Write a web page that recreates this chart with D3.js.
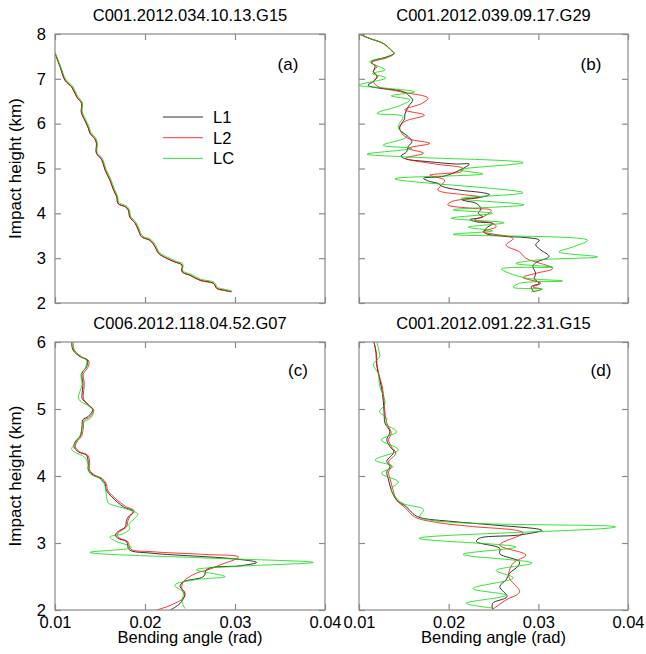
<!DOCTYPE html>
<html>
<head>
<meta charset="utf-8">
<script src="https://cdn.jsdelivr.net/npm/d3@7"></script>
<style>
  body { margin: 0; background: #fff; }
  svg text { font-family: "Liberation Sans", Arial, sans-serif; }
</style>
</head>
<body>
<div id="chart"></div>
<script>
// bending angle in mrad, impact height in km: [angle, height]
var titles = ["C001.2012.034.10.13.G15", "C001.2012.039.09.17.G29",
              "C006.2012.118.04.52.G07", "C001.2012.091.22.31.G15"];
var tags = ["(a)", "(b)", "(c)", "(d)"];
var seriesNames = ["L1", "L2", "LC"];
var seriesColors = ["#000000", "#ff0000", "#00dd00"];
var xTicks = [0.01, 0.02, 0.03, 0.04];
var yTicksTop = [2, 3, 4, 5, 6, 7, 8];
var yTicksBottom = [2, 3, 4, 5, 6];

var aL1 = [[10.0,7.57],[10.56,7.27],[11.1,6.97],[11.85,6.82],[12.4,6.6],[12.96,6.45],[12.9,6.28],[13.0,6.2],[13.3,6.08],[13.7,5.9],[13.9,5.78],[14.4,5.67],[14.6,5.56],[14.55,5.4],[14.6,5.34],[15.2,5.19],[15.55,4.97],[16.1,4.74],[16.5,4.52],[16.85,4.37],[17.0,4.22],[17.8,4.15],[18.15,4.07],[18.3,3.92],[18.9,3.78],[19.25,3.63],[19.6,3.48],[20.55,3.40],[21.1,3.26],[21.5,3.11],[22.4,3.0],[23.3,2.92],[24.1,2.85],[24.1,2.70],[25.0,2.62],[26.1,2.51],[27.6,2.44],[27.96,2.33],[28.7,2.29],[29.6,2.25]];
var aL2 = [[10.0,7.56],[10.6,7.26],[11.15,6.96],[11.9,6.81],[12.45,6.59],[13.0,6.44],[12.95,6.27],[13.05,6.19],[13.35,6.07],[13.75,5.89],[13.95,5.77],[14.45,5.66],[14.65,5.55],[14.6,5.39],[14.65,5.33],[15.25,5.18],[15.6,4.96],[16.15,4.73],[16.55,4.51],[16.9,4.36],[17.05,4.21],[17.85,4.14],[18.2,4.06],[18.35,3.91],[18.95,3.77],[19.3,3.62],[19.65,3.47],[20.6,3.39],[21.15,3.25],[21.55,3.1],[22.45,2.99],[23.35,2.91],[24.15,2.84],[24.15,2.69],[25.05,2.61],[26.15,2.50],[27.65,2.43],[28.0,2.32],[28.75,2.28],[29.6,2.25]];
var aLC = [[10.0,7.6],[10.6,7.29],[11.2,6.99],[11.95,6.84],[12.5,6.62],[13.05,6.47],[13.0,6.3],[13.1,6.22],[13.4,6.1],[13.8,5.92],[14.0,5.8],[14.5,5.69],[14.7,5.58],[14.65,5.42],[14.7,5.36],[15.3,5.21],[15.65,4.99],[16.2,4.76],[16.6,4.54],[16.95,4.39],[17.1,4.24],[17.9,4.17],[18.25,4.09],[18.4,3.94],[19.0,3.8],[19.35,3.65],[19.7,3.5],[20.65,3.42],[21.2,3.28],[21.6,3.13],[22.5,3.02],[23.4,2.94],[24.2,2.87],[24.2,2.72],[25.1,2.64],[26.2,2.53],[27.7,2.46],[28.05,2.35],[28.8,2.31],[29.7,2.27]];

var bL1 = [[10.0,8.0],[11.2,7.9],[12.7,7.79],[13.6,7.64],[13.9,7.57],[13.1,7.49],[11.4,7.38],[11.8,7.27],[11.6,7.16],[12.0,7.05],[11.6,6.94],[11.0,6.86],[12.3,6.79],[14.2,6.75],[15.3,6.68],[15.7,6.60],[16.0,6.53],[15.5,6.38],[15.1,6.19],[15.1,6.12],[14.55,5.93],[14.55,5.86],[15.5,5.71],[15.9,5.60],[15.5,5.49],[15.3,5.37],[14.7,5.28],[15.1,5.22],[17.9,5.15],[20.85,5.10],[22.3,5.10],[21.95,5.04],[21.2,4.96],[19.5,4.83],[17.2,4.78],[17.9,4.71],[18.8,4.67],[19.3,4.6],[21.2,4.52],[23.8,4.46],[24.55,4.42],[23.4,4.35],[21.5,4.30],[23.1,4.22],[23.6,4.1],[23.3,4.0],[23.8,3.92],[22.4,3.86],[23.1,3.81],[24.9,3.77],[24.2,3.67],[24.0,3.57],[26.0,3.49],[28.6,3.46],[30.1,3.40],[29.7,3.30],[30.3,3.18],[31.2,3.04],[29.7,2.9],[29.4,2.81],[29.7,2.66],[29.55,2.54],[30.1,2.44],[29.2,2.36],[29.5,2.25]];
var bL2 = [[10.0,8.0],[11.2,7.9],[12.7,7.79],[13.5,7.65],[13.9,7.56],[13.1,7.47],[11.4,7.36],[12.0,7.27],[11.6,7.16],[12.1,7.05],[11.6,6.94],[12.1,6.83],[14.7,6.71],[17.7,6.57],[17.0,6.45],[15.1,6.31],[17.3,6.19],[15.1,6.05],[14.55,5.93],[14.8,5.78],[15.6,5.66],[17.9,5.56],[15.5,5.45],[17.2,5.34],[15.2,5.23],[18.5,5.1],[21.6,5.0],[21.4,4.93],[19.7,4.89],[17.9,4.85],[19.55,4.74],[19.2,4.63],[18.8,4.52],[21.95,4.41],[23.4,4.37],[20.3,4.26],[19.9,4.19],[22.7,4.11],[24.75,4.07],[24.2,3.96],[22.9,3.85],[24.9,3.78],[25.3,3.70],[23.8,3.59],[24.9,3.54],[27.2,3.44],[26.4,3.29],[27.9,3.14],[28.6,3.0],[31.6,2.77],[29.7,2.66],[28.3,2.57],[30.3,2.44],[29.4,2.36],[30.3,2.31],[29.4,2.25]];
var bLC = [[10.0,8.0],[11.2,7.9],[12.7,7.79],[13.6,7.64],[13.9,7.57],[13.1,7.48],[11.2,7.38],[12.9,7.2],[11.5,7.12],[13.0,7.02],[10.0,6.86],[13.1,6.79],[16.2,6.71],[13.6,6.62],[15.7,6.53],[14.5,6.40],[12.0,6.23],[14.9,6.16],[14.5,6.0],[14.4,5.9],[15.3,5.71],[12.7,5.52],[15.9,5.45],[10.9,5.32],[15.1,5.26],[28.3,5.13],[21.2,4.97],[23.8,4.88],[14.0,4.77],[28.3,4.46],[21.4,4.33],[28.4,4.19],[20.5,4.08],[24.9,4.0],[20.3,3.89],[26.2,3.79],[22.2,3.69],[24.9,3.61],[20.5,3.53],[35.5,3.40],[34.0,3.26],[32.3,3.14],[36.6,3.03],[29.9,2.96],[27.5,2.88],[31.6,2.80],[25.9,2.76],[28.3,2.57],[32.7,2.49],[27.9,2.44],[27.2,2.35],[30.5,2.31],[29.2,2.25]];

var cL1 = [[11.85,6.0],[12.0,5.88],[12.8,5.78],[13.6,5.73],[13.5,5.63],[13.0,5.53],[13.1,5.38],[13.0,5.21],[13.0,5.16],[13.7,5.06],[14.2,4.99],[13.7,4.89],[13.1,4.84],[13.0,4.74],[12.8,4.59],[12.4,4.54],[12.1,4.44],[12.6,4.36],[13.5,4.31],[13.7,4.19],[13.7,4.09],[14.3,4.01],[15.0,3.97],[15.55,3.89],[15.7,3.79],[16.3,3.69],[17.6,3.54],[18.7,3.47],[18.15,3.39],[17.95,3.34],[17.8,3.24],[17.0,3.17],[16.7,3.12],[17.0,3.07],[17.95,3.02],[18.25,2.90],[20.55,2.85],[26.1,2.80],[29.4,2.77],[32.4,2.71],[30.6,2.66],[26.9,2.61],[26.5,2.50],[24.25,2.42],[23.9,2.35],[24.45,2.25],[23.9,2.1],[22.8,2.0]];
var cL2 = [[12.0,6.0],[12.15,5.88],[12.95,5.78],[13.75,5.72],[13.65,5.62],[13.15,5.52],[13.25,5.38],[13.15,5.2],[13.2,5.14],[13.85,5.05],[14.3,4.98],[13.85,4.88],[13.25,4.83],[13.15,4.73],[12.95,4.59],[12.55,4.53],[12.25,4.44],[12.75,4.36],[13.65,4.31],[13.85,4.19],[13.85,4.09],[14.45,4.01],[15.15,3.97],[15.7,3.89],[15.85,3.79],[16.5,3.69],[17.8,3.55],[18.8,3.48],[18.3,3.39],[18.1,3.33],[17.95,3.24],[17.2,3.17],[16.9,3.12],[17.2,3.07],[18.1,3.02],[18.4,2.91],[20.8,2.87],[26.5,2.83],[30.4,2.79],[28.3,2.67],[27.0,2.6],[25.7,2.55],[24.25,2.42],[24.1,2.32],[24.4,2.2],[23.0,2.08],[21.3,2.0]];
var cLC = [[11.85,6.0],[12.0,5.9],[12.7,5.8],[13.5,5.72],[13.4,5.62],[12.9,5.52],[13.0,5.36],[12.6,5.18],[12.8,5.12],[13.7,5.05],[14.3,4.96],[13.9,4.86],[13.2,4.80],[13.0,4.7],[12.7,4.58],[12.2,4.48],[11.85,4.40],[12.3,4.35],[13.3,4.28],[13.7,4.17],[13.8,4.06],[14.0,4.02],[14.9,3.97],[15.5,3.87],[15.7,3.73],[15.9,3.6],[16.6,3.56],[18.1,3.50],[19.2,3.43],[18.8,3.36],[18.2,3.28],[18.3,3.21],[17.6,3.14],[16.1,3.09],[16.7,3.03],[18.0,2.97],[18.5,2.93],[13.9,2.86],[26.0,2.78],[38.7,2.71],[30.0,2.65],[25.7,2.60],[28.9,2.50],[25.5,2.45],[23.3,2.37],[24.25,2.26],[24.1,2.13],[24.45,2.02]];

var dL1 = [[11.67,6.0],[11.9,5.83],[11.95,5.68],[12.15,5.53],[12.5,5.33],[12.7,5.13],[12.8,4.94],[12.9,4.79],[13.45,4.66],[13.1,4.54],[13.45,4.44],[13.9,4.36],[13.1,4.22],[13.45,4.14],[13.1,4.06],[13.3,3.94],[13.6,3.79],[14.2,3.64],[15.3,3.54],[16.0,3.44],[16.8,3.38],[20.5,3.32],[24.9,3.27],[30.4,3.19],[27.9,3.12],[23.4,3.07],[23.1,3.02],[25.7,2.92],[25.7,2.84],[27.9,2.72],[27.7,2.65],[26.8,2.55],[26.4,2.45],[25.7,2.35],[26.5,2.2],[24.9,2.1],[24.9,2.01]];
var dL2 = [[11.67,6.0],[11.95,5.83],[12.0,5.68],[12.2,5.53],[12.6,5.33],[12.8,5.13],[12.9,4.94],[13.1,4.79],[13.6,4.64],[13.3,4.54],[13.6,4.44],[14.1,4.34],[13.3,4.21],[13.6,4.14],[13.3,4.06],[13.5,3.94],[13.8,3.79],[14.2,3.64],[15.2,3.52],[16.2,3.39],[19.0,3.3],[22.3,3.25],[28.3,3.15],[25.7,2.97],[28.6,2.82],[27.2,2.70],[26.7,2.50],[27.9,2.27],[26.4,2.15],[24.9,2.01]];
var dLC = [[12.0,6.0],[12.2,5.88],[12.3,5.78],[11.6,5.66],[12.15,5.53],[12.3,5.35],[12.9,5.08],[12.3,4.96],[13.1,4.86],[13.0,4.78],[14.2,4.66],[12.5,4.54],[14.4,4.39],[11.8,4.24],[13.8,4.14],[12.5,4.04],[14.4,3.91],[13.6,3.81],[14.0,3.7],[14.9,3.59],[17.2,3.50],[16.8,3.39],[38.6,3.24],[16.7,3.07],[27.5,2.94],[21.6,2.83],[29.3,2.70],[25.3,2.59],[27.2,2.48],[22.7,2.32],[26.4,2.22],[21.95,2.10],[24.9,2.03]];

var panels = [
  { left: 55,  top: 34,  width: 270, height: 269, yMax: 8, yTicks: yTicksTop, data: [aL1, aL2, aLC], tagX: 288, tagY: 70,  yLabel: true,  xLabel: false },
  { left: 359, top: 34,  width: 269, height: 269, yMax: 8, yTicks: yTicksTop, data: [bL1, bL2, bLC], tagX: 591, tagY: 70,  yLabel: false, xLabel: false },
  { left: 55,  top: 342, width: 270, height: 268, yMax: 6, yTicks: yTicksBottom, data: [cL1, cL2, cLC], tagX: 298, tagY: 376, yLabel: true,  xLabel: true },
  { left: 359, top: 342, width: 269, height: 268, yMax: 6, yTicks: yTicksBottom, data: [dL1, dL2, dLC], tagX: 601, tagY: 376, yLabel: false, xLabel: true }
];

var svg = d3.select("#chart").append("svg")
  .attr("width", 646)
  .attr("height", 654);

var fontSize = "16.5px";
var frameColor = "#8a8a8a";

panels.forEach(function (p, i) {
  var g = svg.append("g")
    .attr("transform", "translate(" + p.left + "," + p.top + ")");

  var x = d3.scaleLinear().domain([0.01, 0.04]).range([0, p.width]);
  var y = d3.scaleLinear().domain([2, p.yMax]).range([p.height, 0]);

  // clip
  g.append("clipPath").attr("id", "clip" + i)
    .append("rect").attr("width", p.width).attr("height", p.height);

  // curves
  var line = d3.line()
    .x(function (d) { return x(d[0] / 1000); })
    .y(function (d) { return y(d[1]); })
    .curve(d3.curveCatmullRom.alpha(0.5));

  p.data.forEach(function (s, k) {
    g.append("path")
      .datum(s)
      .attr("clip-path", "url(#clip" + i + ")")
      .attr("fill", "none")
      .attr("stroke", seriesColors[k])
      .attr("stroke-width", 0.8)
      .attr("d", line);
  });

  // axes with inward ticks on all sides
  var bottom = g.append("g")
    .attr("transform", "translate(0," + p.height + ")")
    .call(d3.axisBottom(x).tickValues(xTicks).tickSizeInner(-6).tickSizeOuter(0).tickPadding(6)
      .tickFormat(p.xLabel ? d3.format(".2f") : ""));
  var topAx = g.append("g")
    .call(d3.axisTop(x).tickValues(xTicks).tickSizeInner(-6).tickSizeOuter(0).tickFormat(""));
  var leftAx = g.append("g")
    .call(d3.axisLeft(y).tickValues(p.yTicks).tickSizeInner(-6).tickSizeOuter(0).tickPadding(9)
      .tickFormat(p.yLabel ? d3.format("d") : ""));
  var rightAx = g.append("g")
    .attr("transform", "translate(" + p.width + ",0)")
    .call(d3.axisRight(y).tickValues(p.yTicks).tickSizeInner(-6).tickSizeOuter(0).tickFormat(""));

  [bottom, topAx, leftAx, rightAx].forEach(function (ax) {
    ax.select(".domain").remove();
    ax.selectAll(".tick line").attr("stroke", frameColor).attr("stroke-width", 1.2);
    ax.selectAll(".tick text")
      .style("font-size", fontSize)
      .attr("fill", "#000");
  });

  // frame
  g.append("rect")
    .attr("width", p.width)
    .attr("height", p.height)
    .attr("fill", "none")
    .attr("stroke", frameColor)
    .attr("stroke-width", 1.2);

  // title
  svg.append("text")
    .attr("x", p.left + p.width / 2)
    .attr("y", p.top - 13)
    .attr("text-anchor", "middle")
    .style("font-size", fontSize)
    .text(titles[i]);

  // panel tag
  svg.append("text")
    .attr("x", p.tagX)
    .attr("y", p.tagY)
    .attr("text-anchor", "middle")
    .style("font-size", "17px")
    .text(tags[i]);

  if (p.yLabel) {
    svg.append("text")
      .attr("transform", "translate(21," + (p.top + p.height / 2) + ") rotate(-90)")
      .attr("text-anchor", "middle")
      .style("font-size", "17px")
      .text("Impact height (km)");
  }
  if (p.xLabel) {
    svg.append("text")
      .attr("x", p.left + p.width / 2)
      .attr("y", 643)
      .attr("text-anchor", "middle")
      .style("font-size", fontSize)
      .text("Bending angle (rad)");
  }
});

// legend in panel (a)
var legend = svg.append("g");
seriesNames.forEach(function (name, k) {
  var ly = 117 + k * 20.7;
  legend.append("line")
    .attr("x1", 163).attr("x2", 203)
    .attr("y1", ly).attr("y2", ly)
    .attr("stroke", seriesColors[k])
    .attr("stroke-width", 0.8);
  legend.append("text")
    .attr("x", 213)
    .attr("y", ly + 6)
    .style("font-size", fontSize)
    .text(name);
});
</script>
</body>
</html>
